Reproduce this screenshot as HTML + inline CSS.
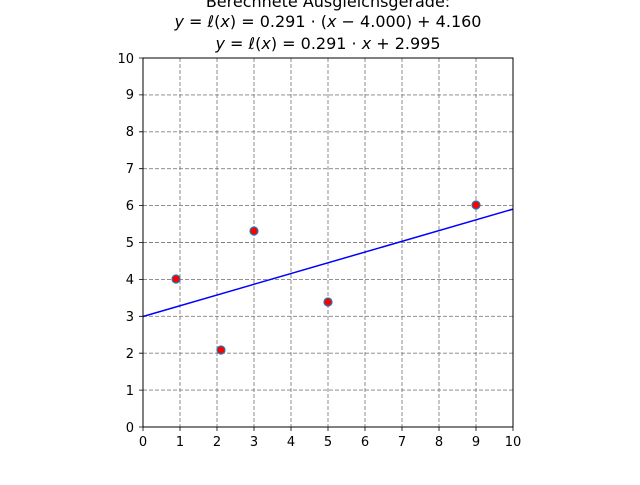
<!DOCTYPE html>
<html><head><meta charset="utf-8"><style>
html,body{margin:0;padding:0;background:#fff;}
svg text{font-family:"DejaVu Sans","Liberation Sans",sans-serif;fill:#000;}
</style></head><body>
<svg width="640" height="480" viewBox="0 0 640 480" xmlns="http://www.w3.org/2000/svg">
<rect width="640" height="480" fill="#fff"/>
<text x="328" y="7" font-size="16" text-anchor="middle">Berechnete Ausgleichsgerade:</text>
<text x="328" y="27" font-size="16" text-anchor="middle"><tspan font-style="italic">y</tspan> = <tspan font-style="italic">ℓ</tspan>(<tspan font-style="italic">x</tspan>) = 0.291 · (<tspan font-style="italic">x</tspan> − 4.000) + 4.160</text>
<text x="328" y="49" font-size="16" text-anchor="middle"><tspan font-style="italic">y</tspan> = <tspan font-style="italic">ℓ</tspan>(<tspan font-style="italic">x</tspan>) = 0.291 · <tspan font-style="italic">x</tspan> + 2.995</text>
<g stroke="#808080" stroke-width="0.9" stroke-dasharray="4,2" fill="none">
<path d="M180,58V427M217,58V427M254,58V427M291,58V427M328,58V427M365,58V427M402,58V427M439,58V427M476,58V427"/>
<path d="M143,390.1H513M143,353.2H513M143,316.3H513M143,279.4H513M143,242.5H513M143,205.6H513M143,168.7H513M143,131.8H513M143,94.9H513"/>
</g>
<line x1="143" y1="316.5" x2="513" y2="209.1" stroke="#0000ff" stroke-width="1.5"/>
<g fill="#ff0000" stroke="#1f77b4" stroke-width="1.2">
<circle cx="176" cy="279" r="4"/>
<circle cx="221" cy="350" r="4"/>
<circle cx="254" cy="231" r="4"/>
<circle cx="328" cy="302" r="4"/>
<circle cx="476" cy="205" r="4"/>
</g>
<rect x="143" y="58" width="370" height="369" fill="none" stroke="#000" stroke-width="1"/>
<g stroke="#000" stroke-width="0.8">
<path d="M143,427v4M180,427v4M217,427v4M254,427v4M291,427v4M328,427v4M365,427v4M402,427v4M439,427v4M476,427v4M513,427v4"/>
<path d="M143,427h-4M143,390.1h-4M143,353.2h-4M143,316.3h-4M143,279.4h-4M143,242.5h-4M143,205.6h-4M143,168.7h-4M143,131.8h-4M143,94.9h-4M143,58h-4"/>
</g>
<g font-size="13" text-anchor="middle">
<text x="143" y="446">0</text><text x="180" y="446">1</text><text x="217" y="446">2</text><text x="254" y="446">3</text><text x="291" y="446">4</text><text x="328" y="446">5</text><text x="365" y="446">6</text><text x="402" y="446">7</text><text x="439" y="446">8</text><text x="476" y="446">9</text><text x="513" y="446">10</text>
</g>
<g font-size="13" text-anchor="end">
<text x="134" y="432">0</text><text x="134" y="395">1</text><text x="134" y="358">2</text><text x="134" y="321">3</text><text x="134" y="284">4</text><text x="134" y="247">5</text><text x="134" y="210">6</text><text x="134" y="173">7</text><text x="134" y="136">8</text><text x="134" y="99">9</text><text x="134" y="63">10</text>
</g>
</svg>
</body></html>
